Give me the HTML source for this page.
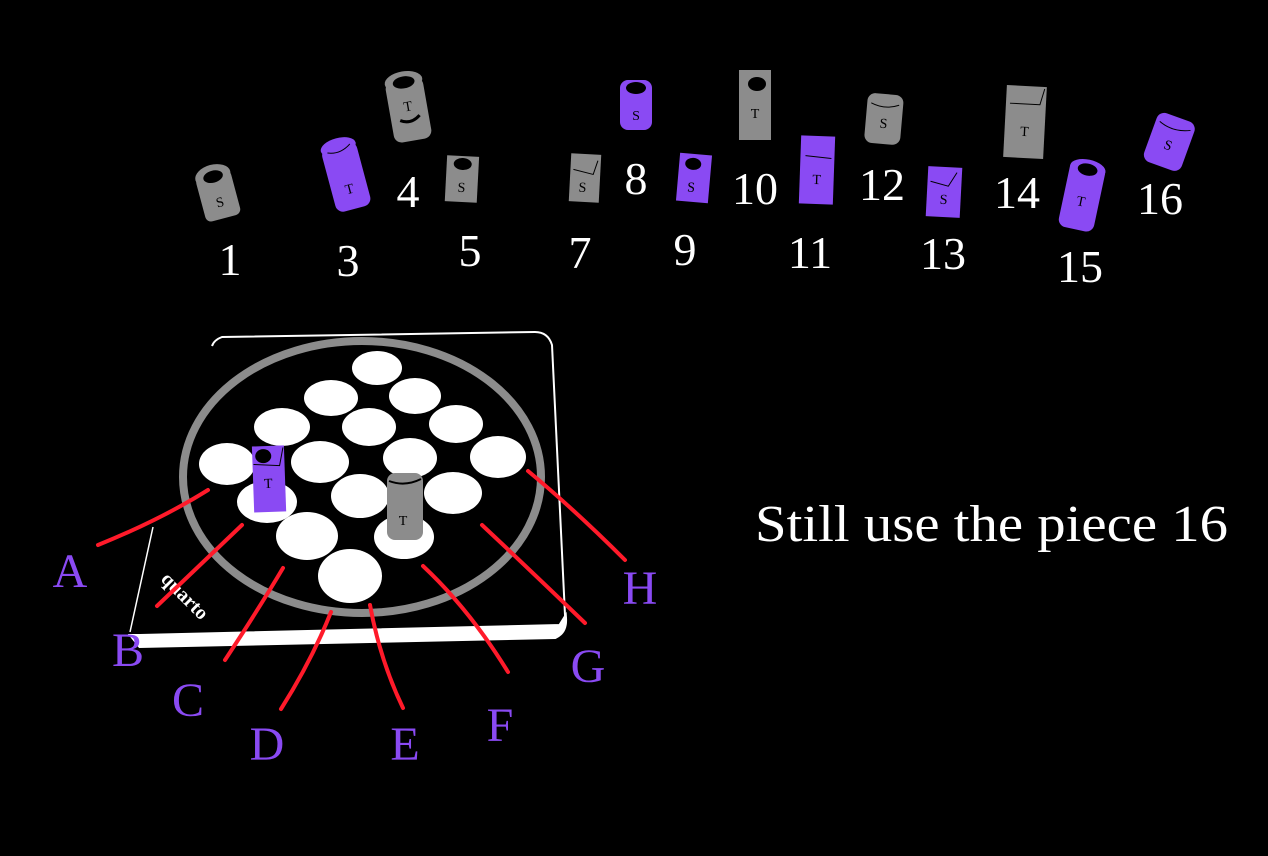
<!DOCTYPE html>
<html><head><style>
html,body{margin:0;padding:0;background:#000;}
svg{display:block;}
text{font-family:"Liberation Serif",serif;}
</style></head><body>
<svg width="1268" height="856" viewBox="0 0 1268 856" xmlns="http://www.w3.org/2000/svg">
<rect width="1268" height="856" fill="#000"/>
<g font-family="Liberation Serif" font-size="14" text-anchor="middle" fill="#000">
<g transform="translate(218,195) rotate(-15)"><rect x="-18" y="-22" width="36" height="46" rx="6" fill="#8c8c8c"/><ellipse cx="0" cy="-20" rx="18" ry="11" fill="#8c8c8c"/><ellipse cx="0" cy="-19" rx="10" ry="6" fill="#000"/><text x="0" y="12">S</text></g>
<g transform="translate(346,176) rotate(-15)"><rect x="-18" y="-32" width="36" height="66" rx="8" fill="#8a4af3"/><ellipse cx="0" cy="-30" rx="18" ry="9" fill="#8a4af3"/><path d="M-12,-27 Q0,-22 12,-30" stroke="#000" fill="none"/><text x="0" y="18">T</text></g>
<g transform="translate(408,107) rotate(-10)"><rect x="-19" y="-28" width="38" height="62" rx="8" fill="#8c8c8c"/><ellipse cx="0" cy="-26" rx="19" ry="10" fill="#8c8c8c"/><ellipse cx="0" cy="-25" rx="11" ry="6" fill="#000"/><text x="0" y="4">T</text><path d="M-10,12 Q0,18 10,10" stroke="#000" stroke-width="3" fill="none"/></g>
<g transform="translate(462,178) rotate(3)"><rect x="-16" y="-22" width="32" height="46" fill="#8c8c8c"/><ellipse cx="0" cy="-14" rx="9" ry="6" fill="#000"/><text x="0" y="14">S</text></g>
<g transform="translate(585,178) rotate(3)"><rect x="-15" y="-24" width="30" height="48" fill="#8c8c8c"/><path d="M-12,-8 L8,-4 L12,-18" stroke="#000" fill="none"/><text x="-2" y="14">S</text></g>
<g transform="translate(636,104)"><rect x="-16" y="-24" width="32" height="50" rx="8" fill="#8a4af3"/><ellipse cx="0" cy="-16" rx="10" ry="6" fill="#000"/><text x="0" y="16">S</text></g>
<g transform="translate(694,178) rotate(5)"><rect x="-16" y="-24" width="32" height="48" fill="#8a4af3"/><ellipse cx="-2" cy="-14" rx="8" ry="6" fill="#000"/><text x="-2" y="14">S</text></g>
<g transform="translate(755,104)"><rect x="-16" y="-34" width="32" height="70" fill="#8c8c8c"/><ellipse cx="2" cy="-20" rx="9" ry="7" fill="#000"/><text x="0" y="14">T</text></g>
<g transform="translate(817,170) rotate(2)"><rect x="-17" y="-34" width="34" height="68" fill="#8a4af3"/><path d="M-12,-14 L14,-12" stroke="#000" fill="none"/><text x="0" y="14">T</text></g>
<g transform="translate(884,118) rotate(5)"><rect x="-18" y="-24" width="36" height="50" rx="8" fill="#8c8c8c"/><path d="M-14,-14 Q0,-8 14,-14" stroke="#000" fill="none"/><text x="0" y="10">S</text></g>
<g transform="translate(944,192) rotate(3)"><rect x="-17" y="-25" width="34" height="50" fill="#8a4af3"/><path d="M-14,-10 L4,-6 L12,-20" stroke="#000" fill="none"/><text x="0" y="12">S</text></g>
<g transform="translate(1025,122) rotate(3)"><rect x="-20" y="-36" width="40" height="72" fill="#8c8c8c"/><path d="M-16,-18 L14,-18 L18,-34" stroke="#000" fill="none"/><text x="0" y="14">T</text></g>
<g transform="translate(1082,196) rotate(12)"><rect x="-18" y="-34" width="36" height="68" rx="8" fill="#8a4af3"/><ellipse cx="0" cy="-28" rx="18" ry="9" fill="#8a4af3"/><ellipse cx="0" cy="-27" rx="10" ry="6" fill="#000"/><text x="0" y="10">T</text></g>
<g transform="translate(1170,140) rotate(20)"><rect x="-20" y="-24" width="40" height="52" rx="8" fill="#8a4af3"/><path d="M-16,-14 Q0,-8 16,-16" stroke="#000" fill="none"/><text x="0" y="10">S</text></g>
</g>
<g fill="#fff" font-size="46" text-anchor="middle">
<text x="230" y="275">1</text>
<text x="348" y="276">3</text>
<text x="408" y="207">4</text>
<text x="470" y="266">5</text>
<text x="580" y="268">7</text>
<text x="636" y="194">8</text>
<text x="685" y="265">9</text>
<text x="755" y="204">10</text>
<text x="810" y="268">11</text>
<text x="882" y="200">12</text>
<text x="943" y="269">13</text>
<text x="1017" y="208">14</text>
<text x="1080" y="282">15</text>
<text x="1160" y="214">16</text>
</g>
<path d="M140,640 L560,630 Q566,628 565,615 L552,345 Q548,332 535,332 L222,337 Q214,340 212,346" fill="none" stroke="#fff" stroke-width="2"/>
<path d="M153,527 L130,632" stroke="#fff" stroke-width="1.5"/>
<path d="M132,636 L140,646 L555,637 Q566,632 565,618 L560,626 L140,636 Z" fill="#fff" stroke="#fff" stroke-width="4"/>
<ellipse cx="362" cy="477" rx="179" ry="136" fill="none" stroke="#8c8c8c" stroke-width="8"/>
<g fill="#fff">
<ellipse cx="377" cy="368" rx="25" ry="17"/>
<ellipse cx="331" cy="398" rx="27" ry="18"/>
<ellipse cx="415" cy="396" rx="26" ry="18"/>
<ellipse cx="282" cy="427" rx="28" ry="19"/>
<ellipse cx="369" cy="427" rx="27" ry="19"/>
<ellipse cx="456" cy="424" rx="27" ry="19"/>
<ellipse cx="227" cy="464" rx="28" ry="21"/>
<ellipse cx="320" cy="462" rx="29" ry="21"/>
<ellipse cx="410" cy="458" rx="27" ry="20"/>
<ellipse cx="498" cy="457" rx="28" ry="21"/>
<ellipse cx="267" cy="502" rx="30" ry="21"/>
<ellipse cx="360" cy="496" rx="29" ry="22"/>
<ellipse cx="453" cy="493" rx="29" ry="21"/>
<ellipse cx="307" cy="536" rx="31" ry="24"/>
<ellipse cx="404" cy="537" rx="30" ry="22"/>
<ellipse cx="350" cy="576" rx="32" ry="27"/>
</g>
<text x="0" y="0" transform="translate(160,580) rotate(45)" fill="#fff" font-family="Liberation Sans" font-weight="bold" font-size="20">quarto</text>
<g transform="translate(268,478) rotate(-2)"><rect x="-15" y="-32" width="32" height="66" fill="#8a4af3"/><ellipse cx="-4" cy="-22" rx="8" ry="7" fill="#000"/><path d="M-14,-14 L12,-12 L16,-30" stroke="#000" fill="none"/><text x="0" y="10" font-size="14" text-anchor="middle" fill="#000">T</text></g>
<g transform="translate(405,505)"><rect x="-18" y="-32" width="36" height="67" rx="8" fill="#8c8c8c"/><path d="M-16,-24 Q0,-18 16,-26" stroke="#000" stroke-width="2" fill="none"/><text x="-2" y="20" font-size="14" text-anchor="middle" fill="#000">T</text></g>
<g stroke="#ff1a2a" stroke-width="4" fill="none" stroke-linecap="round">
<path d="M98,545 Q160,520 208,490"/>
<path d="M157,606 Q200,565 242,525"/>
<path d="M225,660 Q258,610 283,568"/>
<path d="M281,709 Q312,660 331,612"/>
<path d="M403,708 Q380,660 370,605"/>
<path d="M508,672 Q470,610 423,566"/>
<path d="M585,623 Q530,570 482,525"/>
<path d="M625,560 Q575,510 528,471"/>
</g>
<g fill="#8a4af3" font-size="48" text-anchor="middle">
<text x="70" y="587">A</text>
<text x="128" y="666">B</text>
<text x="188" y="716">C</text>
<text x="267" y="760">D</text>
<text x="405" y="760">E</text>
<text x="500" y="741">F</text>
<text x="588" y="682">G</text>
<text x="640" y="604">H</text>
</g>
<text x="755" y="541" fill="#fff" font-size="52" textLength="473" lengthAdjust="spacingAndGlyphs">Still use the piece 16</text>
</svg>
</body></html>
